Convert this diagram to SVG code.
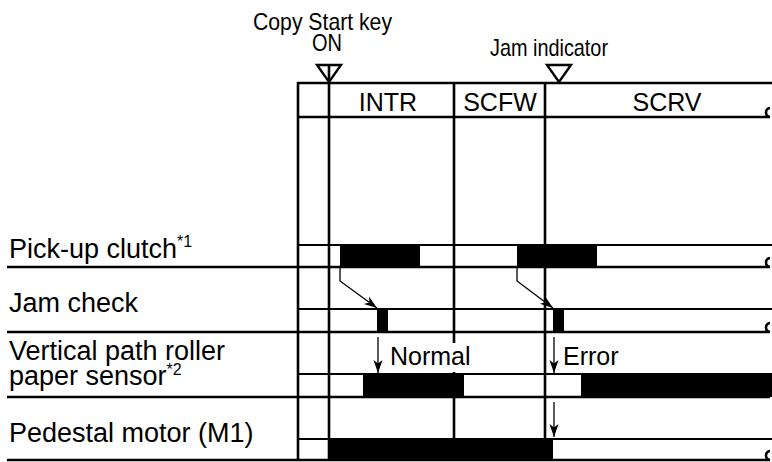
<svg xmlns="http://www.w3.org/2000/svg" width="772" height="462" viewBox="0 0 772 462">
<defs>
<style>
text{font-family:"Liberation Sans",Arial,Helvetica,sans-serif;fill:#000;}
.lbl{font-size:27px;}
.ph{font-size:25px;}
.ann{font-size:24px;}
.sup{font-size:16px;}
.frame{stroke:#000;stroke-width:2.6;fill:none;}
.lane{stroke:#000;stroke-width:2.2;fill:none;}
.thin{stroke:#000;stroke-width:1.3;fill:none;}
.bar{fill:#000;}
.tri{fill:#fff;stroke:#000;stroke-width:2.4;}
</style>
<marker id="ah" markerWidth="14" markerHeight="10" refX="13" refY="4.5" orient="auto" markerUnits="userSpaceOnUse">
<path d="M0,0 L13,4.5 L0,9 L3.5,4.5 Z" fill="#000"/>
</marker>
</defs>
<rect width="772" height="462" fill="#fff"/>

<g id="header-annotations">
<text class="ann" x="253" y="30" textLength="139" lengthAdjust="spacingAndGlyphs">Copy Start key</text>
<text class="ann" x="312" y="51" textLength="30" lengthAdjust="spacingAndGlyphs">ON</text>
<text class="ann" x="490" y="56" textLength="118" lengthAdjust="spacingAndGlyphs">Jam indicator</text>
<polygon class="tri" points="317,65 341,65 329,82"/>
<polygon class="tri" points="547,65 571,65 559,82"/>
</g>

<g id="frame">
<line class="frame" x1="298" y1="83" x2="772" y2="83"/>
<line class="frame" x1="298" y1="82" x2="298" y2="461"/>
<line class="frame" x1="329" y1="64" x2="329" y2="461"/>
<line class="frame" x1="454" y1="83" x2="454" y2="343"/>
<line class="frame" x1="454" y1="372" x2="454" y2="461"/>
<line class="frame" x1="545" y1="83" x2="545" y2="461"/>
<path class="frame" d="M298,117 H770 A4.5,4.5 0 0 1 766,112.5 A4.5,4.5 0 0 1 770,108"/>
</g>

<g id="phases">
<text class="ph" x="388" y="111" text-anchor="middle">INTR</text>
<text class="ph" x="500" y="111" text-anchor="middle">SCFW</text>
<text class="ph" x="667" y="111" text-anchor="middle">SCRV</text>
</g>

<g id="row-pickup-clutch">
<text class="lbl" x="9" y="258">Pick-up clutch<tspan class="sup" dy="-11">*1</tspan></text>
<rect class="bar" x="340" y="245" width="80" height="22"/>
<rect class="bar" x="517" y="245" width="80" height="22"/>
<line class="lane" x1="298" y1="245" x2="772" y2="245"/>
<path class="frame" d="M7,267 H770 A4.5,4.5 0 0 1 766,262.5 A4.5,4.5 0 0 1 770,258"/>
</g>

<g id="row-jam-check">
<text class="lbl" x="9" y="312">Jam check</text>
<rect class="bar" x="377" y="309" width="11" height="23"/>
<rect class="bar" x="553" y="309" width="11" height="23"/>
<line class="lane" x1="298" y1="309" x2="772" y2="309"/>
<path class="frame" d="M7,332 H770 A4.5,4.5 0 0 1 766,327.5 A4.5,4.5 0 0 1 770,323"/>
</g>

<g id="row-vertical-path-sensor">
<text class="lbl" x="9" y="360">Vertical path roller</text>
<text class="lbl" x="9" y="385">paper sensor<tspan class="sup" dy="-10">*2</tspan></text>
<rect class="bar" x="363" y="374" width="101" height="23"/>
<rect class="bar" x="581" y="374" width="191" height="23"/>
<line class="lane" x1="298" y1="374" x2="772" y2="374"/>
<path class="frame" d="M7,397 H770 A4.5,4.5 0 0 1 766,392.5 A4.5,4.5 0 0 1 770,388"/>
</g>

<g id="row-pedestal-motor">
<text class="lbl" x="9" y="442">Pedestal motor (M1)</text>
<rect class="bar" x="328" y="439" width="225" height="21"/>
<line class="lane" x1="298" y1="439" x2="772" y2="439"/>
<path class="frame" d="M7,460 H770 A4.5,4.5 0 0 1 766,455.5 A4.5,4.5 0 0 1 770,451"/>
</g>

<g id="connectors">
<polyline class="thin" points="340,267 340,281 377,308" marker-end="url(#ah)"/>
<polyline class="thin" points="517,267 517,281 553,308" marker-end="url(#ah)"/>
<line class="thin" x1="378" y1="337" x2="378" y2="373" marker-end="url(#ah)"/>
<line class="thin" x1="554" y1="337" x2="554" y2="373" marker-end="url(#ah)"/>
<line class="thin" x1="554" y1="402" x2="554" y2="437" marker-end="url(#ah)"/>
</g>

<g id="arrow-labels">
<text class="ph" x="390" y="365">Normal</text>
<text class="ph" x="563" y="365">Error</text>
</g>
</svg>
